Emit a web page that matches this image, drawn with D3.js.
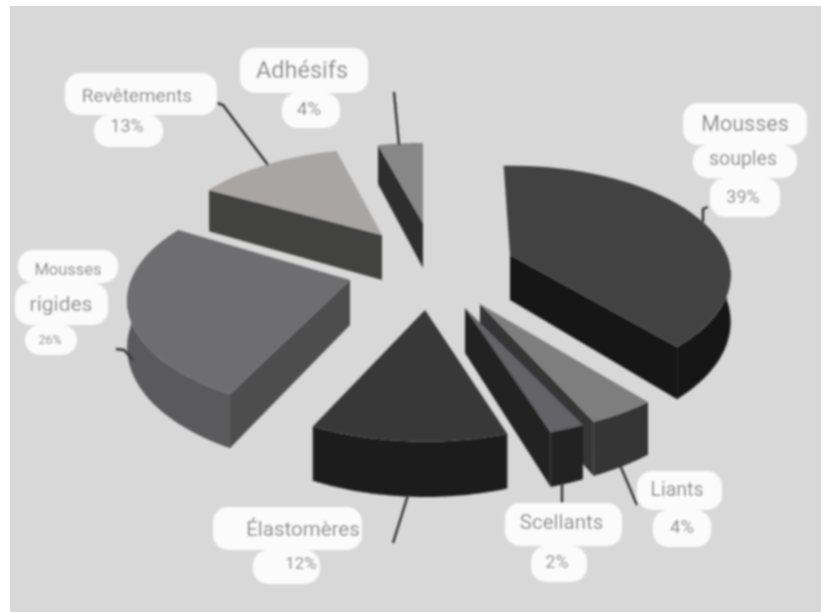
<!DOCTYPE html>
<html><head><meta charset="utf-8">
<script src="https://cdn.jsdelivr.net/npm/d3@7"></script>
<style>html,body{margin:0;padding:0;background:#fff}svg{display:block}</style>
</head><body><svg id="c" width="821" height="612"></svg>
<script>
// ---- data ----
const categories = ["Mousses souples","Liants","Scellants","Élastomères","Mousses rigides","Revêtements","Adhésifs"];
const shares = [39,4,2,12,26,13,4];
// ---- styles ----
const topColors  = ["#434343","#7e7e7e","#646467","#383837","#6e6e70","#a8a5a3","#878787"];
const wallColors = ["#161815","#343434","#232323","#1c1c1c","#4e4e4e","#434341","#2f2f2f"];
const rimColors  = ["#161815","#343434","#232323","#1c1c1c","#5a5a5c","#434341","#2f2f2f"];
// explode offset, rotation (deg), radius factor and horizontal stretch of every slice
const explodeX = [83,53,38,-2,-77,-45,-4];
const explodeY = [-12,37,41,43,13,-32,-44];
const sliceTurn = [-2,1,0.5,0,2,0,0];
const radiusScale = [0.99,1,1,1,1,0.95,0.87];
const stretchX = [1,1.05,1.07,1,1,1.03,1.1];
// label rows: [text, box x0, x1, y0, y1, text cx, cy, font size]
const labelRows = [
 ["Adhésifs",240,368,48,93,302,70,23.5],["4%",282,340,93,128,309,108,19],
 ["Revêtements",65,217,73,115,137,95,19],["13%",94,163,115,147,127,125,18],
 ["Mousses",18,118,250,283,68,269,16.5],["rigides",15,108,283,325,61,304,21],["26%",25,77,325,355,50,339,12.5],
 ["Mousses",683,807,103,145,745,123,21.5],["souples",693,797,145,178,743,158,19.5],["39%",710,780,178,217,743,196,18],
 ["Élastomères",213,362,507,550,303,529,20.5],["12%",253,320,550,584,301,563,17],
 ["Scellants",505,622,503,546,561.5,522,20.5],["2%",531,587,546,582,557,561,18],
 ["Liants",637,722,471,510,677,489,19.5],["4%",653,711,510,547,682,527,18.5]
];
const leaders = [
 [[394,92],[399,145]],
 [[217,103],[223,105],[268,165]],
 [[116,349],[124,350],[133,360]],
 [[708,207],[703,209],[703,222]],
 [[408,495],[393,543]],
 [[562,483],[562,503]],
 [[620,465],[637,505]]
];
// ---- layout ----
const W=821,H=612, cx=427, cy=267;
const Rx=219, Ry=107, persp=0.187, depth=45;
const svg=d3.select("#c");
const defs=svg.append("defs");
defs.append("filter").attr("id","soft").attr("x","-5%").attr("y","-5%").attr("width","110%").attr("height","110%")
  .append("feGaussianBlur").attr("stdDeviation",0.8);
svg.append("rect").attr("width",W).attr("height",H).attr("fill","#ffffff");
svg.append("rect").attr("x",10).attr("y",6).attr("width",W-10).attr("height",H-6).attr("fill","#d8d8d8");
const root=svg.append("g").attr("filter","url(#soft)");

const arcs=d3.pie().sort(null).startAngle(0).endAngle(2*Math.PI)(shares);
const sx=d3.scaleLinear().domain([-1,1]).range([-Rx,Rx]);
const sy=d3.scaleLinear().domain([-1,1]).range([-Ry,Ry]);
function proj(i,t,r,dz){ // t clockwise from top, r in unit disk
  const rr=r*radiusScale[i];
  const X=rr*Math.sin(t),Y=-rr*Math.cos(t),s=1/(1-persp*Y);
  return [cx+explodeX[i]+sx(X)*s*stretchX[i], cy+explodeY[i]+sy(Y)*s+(dz?depth*s:0)];
}
const line=d3.line();
const samples=(a,b)=>d3.range(0,41).map(k=>a+(b-a)*k/40);
const order=[6,5,0,4,1,2,3];
order.forEach(i=>{
  const a=arcs[i],g=root.append("g"),PI=Math.PI;
  const turn=sliceTurn[i]*PI/180, s=a.startAngle+turn, e=a.endAngle+turn;
  const wall=t=>g.append("path").attr("d",line([proj(i,t,0,0),proj(i,t,1,0),proj(i,t,1,1),proj(i,t,0,1)])+"Z").attr("fill",wallColors[i]);
  if(e<PI) wall(e);
  if(s>PI) wall(s);
  const rs=Math.max(s,PI/2),re=Math.min(e,3*PI/2);
  if(re>rs){
    const ts=samples(rs,re);
    const pts=ts.map(t=>proj(i,t,1,0)).concat(ts.slice().reverse().map(t=>proj(i,t,1,1)));
    g.append("path").attr("d",line(pts)+"Z").attr("fill",rimColors[i]);
  }
  const pts=[proj(i,0,0,0)].concat(samples(s,e).map(t=>proj(i,t,1,0)));
  g.append("path").attr("d",line(pts)+"Z").attr("fill",topColors[i]);
});
leaders.forEach(l=>root.append("path").attr("d",line(l)).attr("fill","none").attr("stroke","#333").attr("stroke-width",2.4));
labelRows.forEach(r=>root.append("rect").attr("x",r[1]).attr("y",r[3]).attr("width",r[2]-r[1]).attr("height",r[4]-r[3]).attr("rx",15).attr("fill","#fbfbfb"));
labelRows.forEach(r=>root.append("text").attr("x",r[5]).attr("y",r[6]).attr("text-anchor","middle").attr("dominant-baseline","central")
  .attr("font-family","Roboto, sans-serif").attr("font-size",r[7]).attr("fill","#888888").text(r[0]));
</script></body></html>
